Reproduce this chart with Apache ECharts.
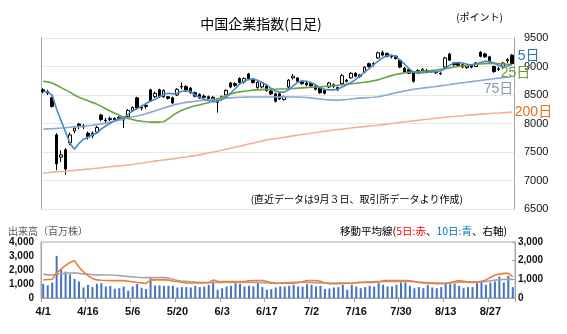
<!DOCTYPE html>
<html><head><meta charset="utf-8">
<script src="https://cdn.jsdelivr.net/npm/echarts@6/dist/echarts.min.js"></script>
<style>html,body{margin:0;padding:0;background:#fff}#c{width:567px;height:334px}</style>
</head><body><div id="c"></div>
<script>
const dates = ["4/1","4/2","4/3","4/7","4/8","4/9","4/10","4/11","4/14","4/15","4/16","4/17","4/22","4/23","4/24","4/25","4/28","4/29","4/30",
"5/2","5/6","5/7","5/8","5/9","5/12","5/13","5/14","5/15","5/16","5/19","5/20","5/21","5/22","5/23","5/26","5/27","5/28","5/29","5/30",
"6/2","6/3","6/4","6/5","6/6","6/9","6/10","6/11","6/12","6/13","6/16","6/17","6/18","6/19","6/20","6/23","6/24","6/25","6/26","6/27","6/30",
"7/2","7/3","7/4","7/7","7/8","7/9","7/10","7/11","7/14","7/15","7/16","7/17","7/18","7/21","7/22","7/23","7/24","7/25","7/28","7/29","7/30","7/31",
"8/1","8/4","8/5","8/6","8/7","8/8","8/11","8/12","8/13","8/14","8/15","8/18","8/19","8/20","8/21","8/22","8/25","8/26","8/27","8/28","8/29",
"9/1","9/2","9/3"];

const openP = [8590,8560,8450,7800,7410,7540,7660,7870,7990,7960,
7830,7780,7850,8150,8060,8070,8090,8090,8100,8120,
8230,8450,8290,8320,8590,8470,8590,8470,8470,8450,
8500,8650,8650,8620,8540,8510,8480,8470,8460,8370,
8430,8500,8710,8700,8790,8730,8870,8780,8630,8640,
8660,8570,8520,8520,8420,8640,8800,8800,8730,8710,
8700,8660,8620,8580,8640,8680,8630,8700,8760,8800,
8880,8850,8900,9050,9040,9150,9250,9230,9180,9180,
9110,8970,8950,8890,8890,8920,8930,8920,8900,8880,
8990,9220,9060,9060,9030,8980,9020,9000,9250,9220,
9170,9000,8950,8990,9120,9200];
const closeP = [8560,8530,8300,7290,7450,7200,7800,7920,7950,7940,
7760,7830,7930,8070,8050,8090,8070,8110,8060,8230,
8280,8270,8270,8300,8390,8530,8470,8580,8440,8360,
8600,8640,8570,8540,8480,8450,8460,8440,8420,8400,
8470,8580,8640,8670,8720,8790,8790,8720,8720,8720,
8580,8520,8390,8430,8470,8760,8830,8740,8700,8680,
8660,8600,8540,8530,8710,8650,8590,8840,8740,8880,
8830,8830,8990,9000,9050,9240,9200,9180,9170,9140,
8990,8900,8880,8740,8930,8950,8900,8910,8890,8870,
9150,9110,9030,9020,8990,9010,8990,9060,9180,9170,
9080,8910,8960,9060,9100,9050];
const lowP = [8530,8500,8280,7180,7320,7100,7620,7830,7900,7900,
7720,7740,7830,8040,8000,8040,8040,8060,7920,8100,
8200,8240,8230,8260,8380,8450,8450,8450,8420,8340,
8480,8600,8560,8520,8460,8430,8430,8420,8390,8190,
8400,8480,8620,8640,8700,8700,8770,8700,8610,8620,
8560,8500,8370,8410,8400,8620,8770,8720,8680,8650,
8640,8580,8520,8510,8620,8620,8570,8680,8720,8790,
8810,8800,8880,8980,9000,9130,9180,9160,9140,9120,
8970,8880,8870,8720,8880,8900,8880,8890,8870,8850,
8970,9100,9010,8990,8970,8960,8970,8990,9160,9150,
9060,8890,8920,8970,9060,9030];
const highP = [8620,8590,8470,7830,7530,7570,7840,7960,8010,7990,
7860,7860,7960,8170,8100,8120,8110,8130,8120,8250,
8300,8470,8320,8340,8610,8560,8610,8600,8480,8470,
8620,8720,8670,8640,8560,8530,8510,8490,8480,8410,
8490,8600,8730,8720,8810,8810,8890,8800,8740,8730,
8680,8590,8540,8540,8490,8780,8870,8810,8750,8730,
8730,8680,8630,8590,8730,8700,8650,8870,8780,8900,
8900,8870,9000,9070,9080,9260,9280,9240,9210,9200,
9130,8990,8970,8900,8950,8970,8960,8940,8930,8900,
9170,9240,9080,9080,9050,9030,9040,9080,9270,9240,
9190,9020,8990,9080,9150,9220];

const ma5 = [8560,8550,8500,8250,8050,7850,7650,7550,7650,7720,
7760,7800,7830,7900,7960,8000,8050,8080,8100,8160,
8220,8260,8300,8350,8390,8420,8470,8510,8530,8520,
8530,8560,8580,8560,8500,8460,8430,8400,8380,8390,
8420,8460,8530,8610,8690,8740,8770,8780,8760,8720,
8680,8620,8570,8550,8550,8590,8660,8720,8750,8740,
8720,8680,8630,8600,8590,8590,8600,8640,8680,8720,
8770,8840,8900,8960,9030,9090,9150,9190,9200,9180,
9110,9040,8960,8900,8880,8890,8900,8910,8910,8920,
8960,9020,9060,9070,9060,9040,9030,9040,9070,9090,
9090,9060,9020,9000,9010,9030];
const ma25 = [8740,8730,8710,8670,8630,8590,8550,8500,8460,8430,
8400,8370,8340,8300,8260,8220,8180,8150,8110,8090,
8070,8050,8040,8030,8025,8025,8025,8030,8080,8140,
8190,8230,8260,8290,8310,8325,8345,8365,8400,8430,
8460,8490,8520,8540,8555,8565,8575,8585,8590,8595,
8598,8600,8602,8604,8605,8610,8615,8620,8625,8630,
8635,8640,8645,8650,8655,8660,8670,8680,8690,8700,
8705,8715,8725,8735,8750,8765,8790,8815,8840,8860,
8875,8890,8900,8905,8910,8915,8925,8930,8940,8950,
8960,8975,8990,9000,9010,9020,9030,9040,9045,9050,
9055,9055,9050,9045,9040,9030];
const ma75 = [7900,7905,7908,7915,7920,7926,7934,7940,7946,7950,
7960,7968,7980,7994,8010,8024,8040,8058,8080,8100,
8114,8130,8150,8170,8195,8220,8244,8270,8296,8320,
8340,8356,8370,8380,8390,8400,8410,8418,8425,8430,
8440,8445,8450,8455,8460,8462,8465,8466,8465,8466,
8465,8464,8466,8465,8467,8466,8465,8465,8460,8455,
8450,8440,8430,8420,8415,8410,8410,8415,8420,8430,
8440,8445,8450,8455,8460,8470,8485,8500,8520,8540,
8555,8570,8585,8600,8610,8620,8630,8640,8650,8660,
8670,8680,8695,8705,8715,8725,8735,8745,8755,8765,
8775,8785,8795,8805,8812,8820];
const ma200 = [7130,7136,7144,7151,7157,7163,7171,7177,7185,7192,
7200,7207,7216,7223,7233,7240,7249,7256,7263,7272,
7280,7293,7303,7317,7328,7340,7351,7359,7371,7380,
7390,7403,7413,7427,7437,7450,7467,7481,7499,7513,
7530,7549,7565,7585,7601,7620,7639,7655,7675,7691,
7710,7723,7733,7747,7757,7770,7783,7793,7807,7817,
7830,7842,7851,7864,7873,7885,7895,7902,7913,7920,
7930,7939,7945,7955,7961,7970,7981,7989,8001,8009,
8020,8030,8037,8048,8055,8065,8075,8082,8093,8100,
8110,8118,8123,8132,8137,8145,8152,8156,8164,8168,
8175,8181,8184,8191,8194,8200];

const volume = [1010,900,1100,3010,2000,1880,1690,1360,1180,750,
940,780,1010,1060,820,870,660,700,820,520,
820,990,730,640,1410,890,900,870,870,870,
750,780,780,750,870,780,820,940,1180,590,
700,820,870,1060,1010,820,870,820,1060,780,
590,640,750,820,820,870,940,820,820,990,
940,820,870,640,680,750,780,940,590,940,
820,700,780,870,820,1060,940,820,820,940,
1110,1110,870,700,780,700,940,750,700,780,
1060,1010,1010,870,700,780,780,1060,1180,940,
1110,1180,1530,1110,1580,780];
const volMaOrange = [970,990,1000,1350,1550,1750,1900,2000,1650,1400,
1200,1050,970,950,940,930,930,930,930,900,
870,830,810,780,960,970,970,970,960,900,
880,840,810,800,800,800,800,820,960,900,
880,880,880,880,880,880,920,930,930,930,
880,830,800,790,790,790,790,820,870,930,
930,930,900,800,760,760,770,780,790,800,
820,830,830,830,830,860,920,930,930,930,
930,930,920,880,830,800,790,780,770,760,
780,830,880,930,900,850,830,850,900,970,
1100,1230,1280,1320,1320,1140];
const volMaGray = [1280,1240,1240,1270,1300,1320,1340,1350,1320,1290,
1270,1250,1240,1230,1230,1230,1220,1200,1170,1150,
1130,1110,1100,1090,1090,1090,1090,1090,1070,1000,
940,910,890,870,850,840,830,830,830,830,
830,830,830,830,830,830,830,830,830,820,
800,790,780,800,820,830,840,840,840,830,
820,820,810,800,800,800,800,795,790,800,
820,840,860,870,880,880,880,880,880,880,
880,880,880,870,860,840,820,810,800,795,
790,800,820,840,850,860,870,870,870,880,
920,960,980,990,1000,1000];

const candleData = dates.map((d, i) => [openP[i], closeP[i], lowP[i], highP[i]]);

const FONT = "'Liberation Sans', Arial, 'Noto Sans CJK JP', sans-serif";
const JFONT = "'Noto Sans CJK JP', sans-serif";

const chart = echarts.init(document.getElementById('c'), null, {renderer: 'canvas'});

function maLine(name, data, color, label, labelColor, offset) {
  return {
    name: name, type: 'line', xAxisIndex: 0, yAxisIndex: 0, data: data,
    showSymbol: false, symbol: 'none', smooth: false, z: 3,
    lineStyle: {color: color, width: 1.6},
    endLabel: {show: true, formatter: label, color: labelColor, fontSize: 14,
      fontFamily: FONT, offset: offset, distance: 2},
    emphasis: {disabled: true}, animation: false
  };
}

const option = {
  animation: false,
  backgroundColor: '#fff',
  grid: [
    {left: 41, right: 53, top: 38, height: 171},
    {left: 41, right: 52, top: 242, height: 56, show: true, borderColor: '#a6a6a6', borderWidth: 1}
  ],
  xAxis: [
    {type: 'category', gridIndex: 0, data: dates, boundaryGap: true,
     axisLine: {show: false}, axisTick: {show: false}, axisLabel: {show: false}, splitLine: {show: false}},
    {type: 'category', gridIndex: 1, data: dates, boundaryGap: true,
     axisLine: {show: true, lineStyle: {color: '#a6a6a6', width: 1}},
     axisTick: {show: true, interval: 9, length: 4, lineStyle: {color: '#a6a6a6'}},
     axisLabel: {interval: 9, fontSize: 11, color: '#111', fontFamily: FONT, margin: 8, fontWeight: 'bold'},
     splitLine: {show: false}}
  ],
  yAxis: [
    {type: 'value', gridIndex: 0, position: 'right', min: 6500, max: 9500, interval: 500,
     axisLine: {show: true, lineStyle: {color: '#a6a6a6', width: 1}}, axisTick: {show: false},
     axisLabel: {fontSize: 11, color: '#111', fontFamily: FONT, margin: 10, formatter: v => String(v)},
     splitLine: {show: true, lineStyle: {color: '#e8e8e8', width: 1}}},
    {type: 'value', gridIndex: 0, position: 'left', min: 6500, max: 9500, interval: 500,
     axisLine: {show: true, lineStyle: {color: '#a6a6a6', width: 1}}, axisTick: {show: false},
     axisLabel: {show: false}, splitLine: {show: false}},
    {type: 'value', gridIndex: 1, position: 'left', min: 0, max: 4000, interval: 1000,
     axisLine: {show: true, lineStyle: {color: '#a6a6a6'}}, axisTick: {show: false},
     axisLabel: {fontSize: 10, color: '#111', fontFamily: FONT, margin: 7, fontWeight: 'bold'},
     splitLine: {show: false}},
    {type: 'value', gridIndex: 1, position: 'right', min: 0, max: 3000, interval: 1000,
     axisLine: {show: true, lineStyle: {color: '#a6a6a6'}},
     axisTick: {show: true, inside: true, length: 3, lineStyle: {color: '#a6a6a6'}},
     axisLabel: {fontSize: 10, color: '#111', fontFamily: FONT, margin: 3, fontWeight: 'bold'},
     splitLine: {show: false}}
  ],
  series: [
    maLine('200日', ma200, '#f5ae92', '200日', '#e2711d', [1, 0]),
    maLine('75日', ma75, '#8ea6da', '75日', '#8497b0', [-30, 12]),
    maLine('25日', ma25, '#6aa33e', '25日', '#6b9a3a', [-13, 8]),
    {type: 'candlestick', xAxisIndex: 0, yAxisIndex: 0, data: candleData, barWidth: 3, z: 2,
     itemStyle: {color: '#ffffff', color0: '#000000', borderColor: '#000000', borderColor0: '#000000', borderWidth: 1},
     emphasis: {disabled: true}},
    maLine('5日', ma5, '#4a89c8', '5日', '#2e75b6', [4, -9]),
    {type: 'bar', xAxisIndex: 1, yAxisIndex: 2, data: volume, barWidth: 2,
     itemStyle: {color: '#4472c4'}, emphasis: {disabled: true}},
    {type: 'line', xAxisIndex: 1, yAxisIndex: 3, data: volMaGray, showSymbol: false, symbol: 'none',
     lineStyle: {color: '#a5a5a5', width: 1.6}, emphasis: {disabled: true}},
    {type: 'line', xAxisIndex: 1, yAxisIndex: 3, data: volMaOrange, showSymbol: false, symbol: 'none',
     lineStyle: {color: '#ed7d31', width: 1.6}, emphasis: {disabled: true}}
  ],
  graphic: [
    {type: 'text', style: {text: '中国企業指数(日足)', x: 261, y: 24, align: 'center', verticalAlign: 'middle',
      fontSize: 14, fontFamily: JFONT, fill: '#000'}},
    {type: 'text', style: {text: '(ポイント)', x: 503, y: 17, align: 'right', verticalAlign: 'middle',
      fontSize: 10, fontFamily: JFONT, fill: '#000'}},
    {type: 'text', style: {text: '(直近データは9月３日、取引所データより作成)', x: 463, y: 199, align: 'right', verticalAlign: 'middle',
      fontSize: 10, fontFamily: JFONT, fill: '#000'}},
    {type: 'text', style: {text: '出来高（百万株）', x: 8, y: 231, align: 'left', verticalAlign: 'middle',
      fontSize: 10, fontFamily: JFONT, fill: '#595959'}},
    {type: 'text', style: {text: '{a|移動平均線(}{r|5日:赤}{a|、}{b|10日:青}{a|、右軸)}', x: 507, y: 231,
      align: 'right', verticalAlign: 'middle',
      rich: {a: {fontSize: 10.5, fontFamily: JFONT, fill: '#000'},
             r: {fontSize: 10.5, fontFamily: JFONT, fill: '#ff0000'},
             b: {fontSize: 10.5, fontFamily: JFONT, fill: '#0070c0'}}}}
  ]
};
chart.setOption(option);
</script></body></html>
